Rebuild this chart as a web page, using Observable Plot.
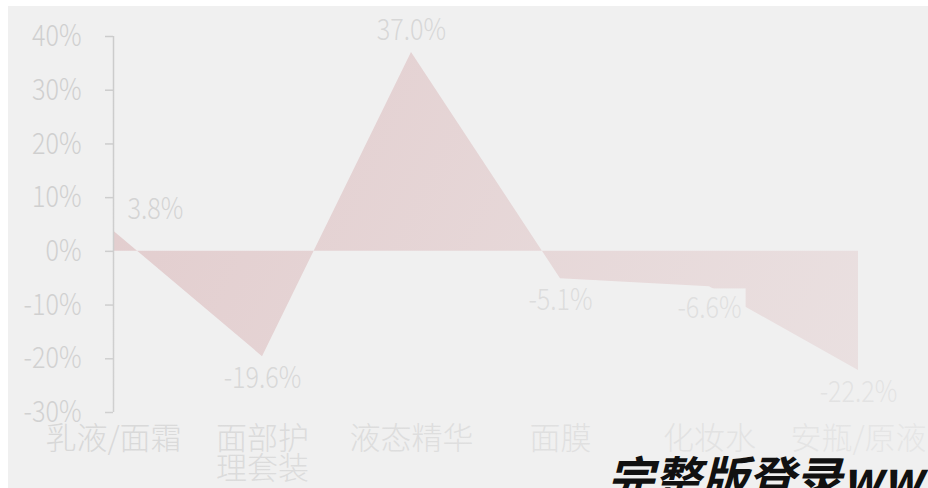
<!DOCTYPE html>
<html><head><meta charset="utf-8">
<script src="https://cdn.jsdelivr.net/npm/d3@7"></script>
<script src="https://cdn.jsdelivr.net/npm/@observablehq/plot@0.6"></script>
<style>
html,body{margin:0;padding:0;background:#fff;}
#wrap{position:relative;width:928px;height:488px;overflow:hidden;background:#fff;}
#panel{position:absolute;left:8px;top:6px;right:0;bottom:0;background:#f0f0f0;}
#chart{position:absolute;left:0;top:0;}
#wm{position:absolute;left:607px;top:452px;font-family:"Noto Sans CJK SC";font-weight:bold;font-style:italic;font-size:47px;white-space:nowrap;color:#111;line-height:1;}
</style></head>
<body><div id="wrap"><div id="panel"></div><div id="chart"></div><div id="wm">完整版登录www</div></div>
<script>
const categories = ["乳液/面霜", "面部护理套装", "液态精华", "面膜", "化妆水", "安瓶/原液"];
const categoryLabels = ["乳液/面霜", "面部护\n理套装", "液态精华", "面膜", "化妆水", "安瓶/原液"];
const growth = [3.8, -19.6, 37.0, -5.1, -6.6, -22.2];
const yTicks = [-30, -20, -10, 0, 10, 20, 30, 40];

const data = categories.map((c, i) => ({category: c, label: categoryLabels[i], value: growth[i], i}));
const font = "'Noto Sans CJK SC', sans-serif";

const chart = Plot.plot({
  width: 928, height: 488,
  marginLeft: 113, marginRight: 70, marginTop: 36, marginBottom: 76,
  style: {background: "transparent", overflow: "visible"},
  x: {type: "point", domain: categories, padding: 0, axis: null},
  y: {domain: [-30, 40], axis: null},
  marks: [
    Plot.areaY(data, {x: "category", y: "value", fill: "#e2cccd"}),
    Plot.ruleX([categories[0]], {y1: -30, y2: 40, stroke: "#cccccc", strokeWidth: 1.5}),
    Plot.axisY({ticks: yTicks, tickFormat: d => d + "%", tickSize: 8, tickPadding: 24, label: null,
      stroke: "#cccccc", strokeWidth: 1.5, fill: "#cfcfcf", fontSize: 30, fontFamily: font, fontWeight: 300}),
    Plot.text(data, {filter: d => d.i === 0, x: "category", y: "value", text: d => d.value.toFixed(1) + "%",
      textAnchor: "start", dx: 14, dy: -22, fontSize: 30, fontFamily: font, fontWeight: 300, fill: "#d2d2d2"}),
    Plot.text(data, {filter: d => d.i > 0 && d.value >= 0, x: "category", y: "value", text: d => d.value.toFixed(1) + "%",
      dy: -22, fontSize: 30, fontFamily: font, fontWeight: 300, fill: "#d2d2d2"}),
    Plot.text(data, {filter: d => d.value < 0, x: "category", y: "value", text: d => d.value.toFixed(1) + "%",
      dy: 22, fontSize: 30, fontFamily: font, fontWeight: 300, fill: "#d2d2d2"}),
    Plot.text(data, {x: "category", y: () => -30, text: "label", lineAnchor: "top", dy: 15, lineHeight: 0.97,
      fontSize: 31, fontFamily: font, fontWeight: 300, fill: "#d6d6d6"})
  ]
});
document.getElementById("chart").append(chart);

// mark groups in drawing order
const textGroups = Array.from(chart.querySelectorAll(':scope > g[aria-label="text"]'));
const valueGroups = textGroups.slice(0, 3);
const tickTextGroups = Array.from(chart.querySelectorAll(':scope > g[aria-label="y-axis tick label"]'));

// narrow the numeric labels horizontally around their anchor (reference uses a condensed face)
[...valueGroups, ...tickTextGroups].forEach(g => g.querySelectorAll("text").forEach(t => {
  const tr = t.getAttribute("transform") || "";
  t.setAttribute("transform", `${tr} scale(0.84,1)`);
}));

// background boxes behind value labels
const svg = d3.select(chart);
const svgRect = chart.getBoundingClientRect();
const boxes = d3.create("svg:g").attr("aria-label", "label-boxes");
valueGroups.forEach(g => g.querySelectorAll("text").forEach(t => {
  const r = t.getBoundingClientRect();
  const cy = r.top - svgRect.top + r.height / 2;
  boxes.append("rect").attr("x", r.left - svgRect.left - 4).attr("y", cy - 17)
    .attr("width", r.width + 8).attr("height", 35).attr("fill", "#f0f0f0");
}));
if (valueGroups.length) chart.insertBefore(boxes.node(), valueGroups[0]);

// diagonal fade toward the background colour
const defs = svg.append("defs");
const grad = defs.append("linearGradient").attr("id", "fade").attr("gradientUnits", "userSpaceOnUse")
  .attr("x1", 100).attr("y1", 80).attr("x2", 900).attr("y2", 460);
grad.append("stop").attr("offset", 0).attr("stop-color", "#f0f0f0").attr("stop-opacity", 0);
grad.append("stop").attr("offset", 1).attr("stop-color", "#f0f0f0").attr("stop-opacity", 0.6);
svg.append("rect").attr("x", 8).attr("y", 6).attr("width", 920).attr("height", 482).attr("fill", "url(#fade)");
</script>
</body></html>
